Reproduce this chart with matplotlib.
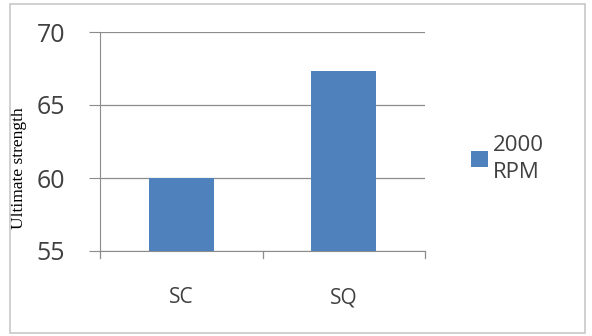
import matplotlib.pyplot as plt
from matplotlib.patches import Rectangle

categories = ['SC', 'SQ']
strength = [60.0, 67.3]
series_name = '2000\nRPM'
y_ticks = [55, 60, 65, 70]

bar_color = '#4f81bd'
text_color = '#404040'
grid_color = '#8c8c8c'

plt.rcParams['font.family'] = ['Open Sans', 'DejaVu Sans']

fig = plt.figure(figsize=(5.92, 3.36), dpi=100)
ax = fig.add_axes([100 / 592, 1 - 251 / 336, 325 / 592, 219 / 336])

x = range(len(categories))
ax.bar(x, [v - y_ticks[0] for v in strength], bottom=y_ticks[0], width=0.4,
       color=bar_color, label=series_name, zorder=3)

ax.set_xlim(-0.5, len(categories) - 0.5)
ax.set_ylim(y_ticks[0], y_ticks[-1])
ax.set_yticks(y_ticks)
ax.set_xticks(list(x))
ax.set_xticklabels(categories)
ax.yaxis.grid(True, color=grid_color, linewidth=0.9, zorder=0)

for side in ['top', 'right']:
    ax.spines[side].set_visible(False)
for side in ['left', 'bottom']:
    ax.spines[side].set_color(grid_color)

# category boundary ticks on the x axis instead of centred ones
ax.tick_params(axis='x', length=0, pad=26, labelsize=15, labelcolor=text_color)
for b in [-0.5, 0.5, 1.5]:
    ax.plot([b, b], [y_ticks[0], y_ticks[0] - 0.5], color=grid_color,
            linewidth=0.9, clip_on=False, zorder=2)
ax.tick_params(axis='y', length=8, color=grid_color, labelsize=18,
               labelcolor=text_color, pad=17)

ax.set_ylabel('Ultimate strength', family='Liberation Serif', fontsize=12.5,
              color='black', labelpad=0)
ax.yaxis.set_label_coords(-0.225, 0.38)

leg = ax.legend(loc='center left', bbox_to_anchor=(1.08, 0.42), frameon=False,
                fontsize=16, handlelength=0.75, handleheight=0.75,
                handletextpad=0.25, labelcolor=text_color)
for t in leg.get_texts():
    t.set_linespacing(1.35)

fig.patches.append(Rectangle((10 / 592, 3 / 336), 575 / 592, 329 / 336,
                             transform=fig.transFigure, fill=False,
                             edgecolor='#c8c8c8', linewidth=1.2))

fig.savefig('out.png', dpi=100)
